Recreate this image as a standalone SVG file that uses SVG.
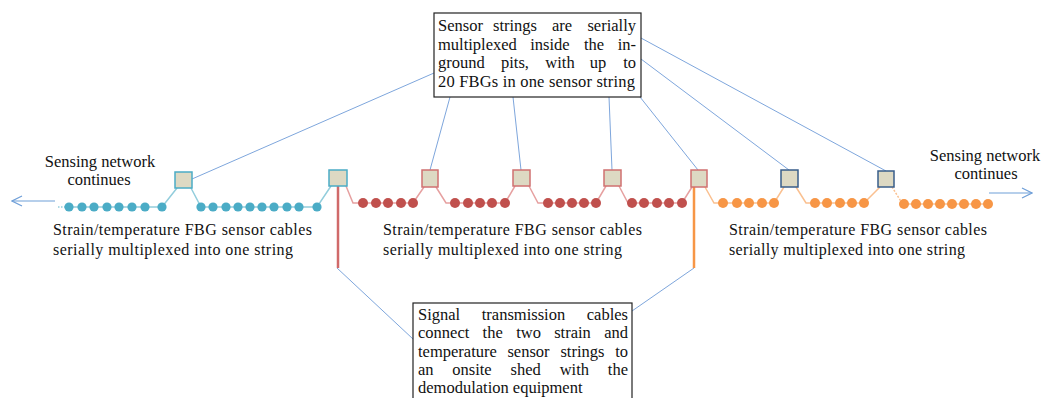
<svg xmlns="http://www.w3.org/2000/svg" width="1043" height="398" viewBox="0 0 1043 398">
<defs>
<style>
text{font-family:"Liberation Serif","Times New Roman",serif;fill:#111;}
.t16{font-size:16px;}
.t17{font-size:16.5px;}
.lead{stroke:#7ea6dc;stroke-width:1;fill:none;}
.box{fill:#ddd9c3;stroke-width:1.5;}
.bc{stroke:#4bacc6;}
.br{stroke:#d07070;}
.bd{stroke:#385d8a;}
.cb{stroke:#92cddc;stroke-width:1.5;fill:none;}
.cr{stroke:#e6a0a0;stroke-width:1.5;fill:none;}
.co{stroke:#fac090;stroke-width:1.5;fill:none;}
.db{fill:#4bacc6;}
.dr{fill:#c0504d;}
.do{fill:#f79646;}
.note{fill:#fff;stroke:#222;stroke-width:1.2;}
</style>
<marker id="open" viewBox="0 0 12 12" refX="11" refY="6" markerWidth="12" markerHeight="12" markerUnits="userSpaceOnUse" orient="auto">
<path d="M1,1 L11,6 L1,11" fill="none" stroke="#6f9fd8" stroke-width="1.2"/>
</marker>
</defs>
<rect width="1043" height="398" fill="#fff"/>

<g id="connectors">
<line class="lead" x1="434" y1="73" x2="192" y2="179"/>
<line class="lead" x1="450" y1="97" x2="430" y2="170"/>
<line class="lead" x1="513" y1="97" x2="521" y2="170"/>
<line class="lead" x1="609" y1="97" x2="612" y2="170"/>
<line class="lead" x1="640" y1="97" x2="698" y2="170"/>
<line class="lead" x1="641" y1="59" x2="789" y2="170"/>
<line class="lead" x1="641" y1="38" x2="886" y2="171"/>
<line class="lead" x1="337" y1="268" x2="413" y2="339"/>
<line class="lead" x1="632" y1="311" x2="694" y2="268"/>
<line x1="55" y1="201" x2="12" y2="201" stroke="#6f9fd8" stroke-width="1.2" marker-end="url(#open)"/>
<line x1="989" y1="193" x2="1032" y2="193" stroke="#6f9fd8" stroke-width="1.2" marker-end="url(#open)"/>
<line class="cb" x1="58" y1="207" x2="69" y2="207" stroke-dasharray="1.5,1.5"/>
<path class="cb" d="M69,207 L162,207 L177,188"/>
<path class="cb" d="M191,188 L201,207 L317,207 L331,186"/>
<path class="cr" d="M346,186 L353,203 L413,203 L424,187"/>
<path class="cr" d="M436,187 L446,203 L505,203 L515,186"/>
<path class="cr" d="M529,186 L538,203 L596,203 L606,186"/>
<path class="cr" d="M619,186 L628,203 L682,203 L692,187"/>
<path class="co" d="M705,187 L714,203 L774,203 L784,187"/>
<path class="co" d="M796,187 L806,203 L864,203 L880,187"/>
<line class="co" x1="892" y1="187" x2="902" y2="203" stroke-dasharray="2,1.5"/>
<line class="co" x1="904" y1="204" x2="988" y2="204"/>
<line x1="338" y1="186" x2="338" y2="268" stroke="#d06a6a" stroke-width="2.5"/>
<line x1="694" y1="187" x2="694" y2="268" stroke="#f79646" stroke-width="2.5"/>
</g>

<g id="dots-blue">
<circle class="db" cx="69" cy="207" r="4.6"/><circle class="db" cx="82" cy="207" r="4.6"/><circle class="db" cx="94" cy="207" r="4.6"/><circle class="db" cx="107" cy="207" r="4.6"/><circle class="db" cx="119" cy="207" r="4.6"/><circle class="db" cx="132" cy="207" r="4.6"/><circle class="db" cx="145" cy="207" r="4.6"/><circle class="db" cx="162" cy="207" r="4.6"/>
<circle class="db" cx="201" cy="207" r="4.6"/><circle class="db" cx="213" cy="207" r="4.6"/><circle class="db" cx="226" cy="207" r="4.6"/><circle class="db" cx="238" cy="207" r="4.6"/><circle class="db" cx="250" cy="207" r="4.6"/><circle class="db" cx="262" cy="207" r="4.6"/><circle class="db" cx="274" cy="207" r="4.6"/><circle class="db" cx="287" cy="207" r="4.6"/><circle class="db" cx="299" cy="207" r="4.6"/><circle class="db" cx="317" cy="207" r="4.6"/>
</g>
<g id="dots-red">
<circle class="dr" cx="363" cy="203" r="5"/><circle class="dr" cx="376" cy="203" r="5"/><circle class="dr" cx="388" cy="203" r="5"/><circle class="dr" cx="401" cy="203" r="5"/><circle class="dr" cx="413" cy="203" r="5"/>
<circle class="dr" cx="455" cy="203" r="5"/><circle class="dr" cx="468" cy="203" r="5"/><circle class="dr" cx="480" cy="203" r="5"/><circle class="dr" cx="492" cy="203" r="5"/><circle class="dr" cx="505" cy="203" r="5"/>
<circle class="dr" cx="548" cy="203" r="5"/><circle class="dr" cx="560" cy="203" r="5"/><circle class="dr" cx="572" cy="203" r="5"/><circle class="dr" cx="584" cy="203" r="5"/><circle class="dr" cx="596" cy="203" r="5"/>
<circle class="dr" cx="632" cy="203" r="5"/><circle class="dr" cx="644" cy="203" r="5"/><circle class="dr" cx="657" cy="203" r="5"/><circle class="dr" cx="669" cy="203" r="5"/><circle class="dr" cx="682" cy="203" r="5"/>
</g>
<g id="dots-orange">
<circle class="do" cx="723" cy="203" r="5"/><circle class="do" cx="737" cy="203" r="5"/><circle class="do" cx="749" cy="203" r="5"/><circle class="do" cx="762" cy="203" r="5"/><circle class="do" cx="774" cy="203" r="5"/>
<circle class="do" cx="815" cy="203" r="5"/><circle class="do" cx="827" cy="203" r="5"/><circle class="do" cx="840" cy="203" r="5"/><circle class="do" cx="852" cy="203" r="5"/><circle class="do" cx="864" cy="203" r="5"/>
<circle class="do" cx="904" cy="204" r="5"/><circle class="do" cx="916" cy="204" r="5"/><circle class="do" cx="928" cy="204" r="5"/><circle class="do" cx="940" cy="204" r="5"/><circle class="do" cx="952" cy="204" r="5"/><circle class="do" cx="964" cy="204" r="5"/><circle class="do" cx="976" cy="204" r="5"/><circle class="do" cx="988" cy="204" r="5"/>
</g>

<g id="pit1"><rect class="box bc" x="175" y="172" width="17" height="16"/></g>
<g id="pit2"><rect class="box bc" x="329" y="170" width="18" height="16"/></g>
<g id="pit3"><rect class="box br" x="422" y="170" width="16" height="17"/></g>
<g id="pit4"><rect class="box br" x="513" y="170" width="17" height="16"/></g>
<g id="pit5"><rect class="box br" x="604" y="170" width="17" height="16"/></g>
<g id="pit6"><rect class="box br" x="691" y="170" width="16" height="17"/></g>
<g id="pit7"><rect class="box bd" x="781" y="170" width="17" height="17"/></g>
<g id="pit8"><rect class="box bd" x="878" y="171" width="16" height="16"/></g>

<g id="note-top">
<rect class="note" x="434" y="13" width="207" height="84"/>
<text class="t17" y="31" x="438">Sensor</text>
<text class="t17" y="31" x="515" text-anchor="middle">strings</text>
<text class="t17" y="31" x="562" text-anchor="middle">are</text>
<text class="t17" y="31" x="636" text-anchor="end">serially</text>
<text class="t17" y="50" x="438">multiplexed</text>
<text class="t17" y="50" x="550" text-anchor="middle">inside</text>
<text class="t17" y="50" x="594" text-anchor="middle">the</text>
<text class="t17" y="50" x="636" text-anchor="end">in-</text>
<text class="t17" y="68" x="438">ground</text>
<text class="t17" y="68" x="515" text-anchor="middle">pits,</text>
<text class="t17" y="68" x="560" text-anchor="middle">with</text>
<text class="t17" y="68" x="598" text-anchor="middle">up</text>
<text class="t17" y="68" x="636" text-anchor="end">to</text>
<text class="t17" y="87" x="438" textLength="197" lengthAdjust="spacing">20 FBGs in one sensor string</text>
</g>

<g id="note-bottom">
<rect class="note" x="413" y="303" width="219" height="100"/>
<text class="t17" y="320" x="418">Signal</text>
<text class="t17" y="320" x="523.5" text-anchor="middle">transmission</text>
<text class="t17" y="320" x="628" text-anchor="end">cables</text>
<text class="t17" y="338" x="418">connect</text>
<text class="t17" y="338" x="492.7" text-anchor="middle">the</text>
<text class="t17" y="338" x="528.5" text-anchor="middle">two</text>
<text class="t17" y="338" x="572.5" text-anchor="middle">strain</text>
<text class="t17" y="338" x="628" text-anchor="end">and</text>
<text class="t17" y="357" x="418">temperature</text>
<text class="t17" y="357" x="528.5" text-anchor="middle">sensor</text>
<text class="t17" y="357" x="582.4" text-anchor="middle">strings</text>
<text class="t17" y="357" x="628" text-anchor="end">to</text>
<text class="t17" y="375" x="418">an</text>
<text class="t17" y="375" x="472" text-anchor="middle">onsite</text>
<text class="t17" y="375" x="525.7" text-anchor="middle">shed</text>
<text class="t17" y="375" x="574.3" text-anchor="middle">with</text>
<text class="t17" y="375" x="628" text-anchor="end">the</text>
<text class="t17" y="393" x="418">demodulation equipment</text>
</g>

<g id="labels">
<text class="t17" x="100" y="167" text-anchor="middle">Sensing network</text>
<text class="t17" x="99" y="185" text-anchor="middle">continues</text>
<text class="t17" x="985" y="161" text-anchor="middle">Sensing network</text>
<text class="t17" x="986" y="179" text-anchor="middle">continues</text>
<text class="t16" x="53" y="235" textLength="259" lengthAdjust="spacing">Strain/temperature FBG sensor cables</text>
<text class="t16" x="53" y="255" textLength="240" lengthAdjust="spacing">serially multiplexed into one string</text>
<text class="t16" x="383" y="235" textLength="259" lengthAdjust="spacing">Strain/temperature FBG sensor cables</text>
<text class="t16" x="383" y="255" textLength="239" lengthAdjust="spacing">serially multiplexed into one string</text>
<text class="t16" x="729" y="235" textLength="258" lengthAdjust="spacing">Strain/temperature FBG sensor cables</text>
<text class="t16" x="729" y="255" textLength="236" lengthAdjust="spacing">serially multiplexed into one string</text>
</g>
</svg>
